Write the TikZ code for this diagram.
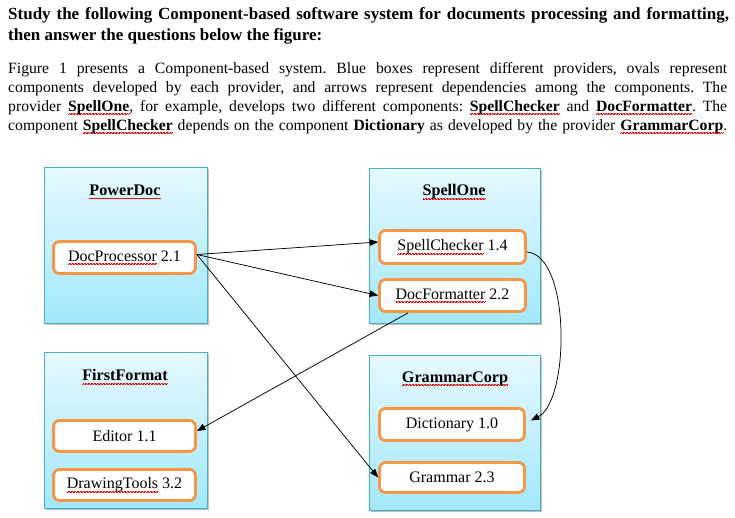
\documentclass[tikz,border=0pt]{standalone}
\usepackage{fontspec}
\setmainfont{Liberation Serif}
\usetikzlibrary{arrows.meta,shadows}
\frenchspacing
\newsavebox{\sqbox}
\newcommand{\sq}[1]{\leavevmode\sbox{\sqbox}{#1}\rlap{\textcolor{red}{\hbox to \wd\sqbox{\xleaders\hbox{\rule[-3.4pt]{0.75pt}{0.55pt}\rule[-2.6pt]{0.75pt}{0.55pt}}\hfill}}}\usebox{\sqbox}}
\definecolor{provtop}{HTML}{E6F9FE}
\definecolor{provbot}{HTML}{A2E8FB}
\definecolor{provborder}{HTML}{4BACC6}
\definecolor{compor}{HTML}{F79646}
\tikzset{
  provider/.style={draw=provborder, line width=0.8pt, top color=provtop, bottom color=provbot,
    drop shadow={shadow xshift=2pt, shadow yshift=-2pt, opacity=0.25, fill=black}, inner sep=0pt},
  comp/.style={draw=compor, line width=2.8pt, fill=white, rounded corners=6pt, inner sep=0pt,
    font=\fontsize{16}{18}\selectfont},
  ptitle/.style={font=\bfseries\fontsize{16.2}{18}\selectfont, inner sep=0pt},
  dep/.style={-{Triangle[length=8.5pt,width=6.5pt]}, line width=0.75pt},
  txt/.style={anchor=base west, inner sep=0pt, font=\fontsize{15.7}{19}\selectfont},
  ttl/.style={anchor=base west, inner sep=0pt, font=\bfseries\fontsize{17}{21}\selectfont},
}
\begin{document}
\begin{tikzpicture}[x=1pt,y=-1pt]
\useasboundingbox (0,0) rectangle (735,517);
% header text
\node[ttl] (t1) at (8,19) {\makebox[721pt][s]{Study the following Component-based software system for documents processing and formatting,}};
\node[ttl] (t2) at (8,40) {then answer the questions below the figure:};
\node[txt] (b1) at (8,73) {\makebox[719pt][s]{Figure 1 presents a Component-based system. Blue boxes represent different providers, ovals represent}};
\node[txt] (b2) at (8,92) {\makebox[719pt][s]{components developed by each provider, and arrows represent dependencies among the components. The}};
\node[txt] (b3) at (8,111) {\makebox[719pt][s]{provider \textbf{\sq{SpellOne}}, for example, develops two different components: \textbf{\sq{SpellChecker}} and \textbf{\sq{DocFormatter}}. The}};
\node[txt] (b4) at (8,130) {\makebox[719pt][s]{component \textbf{\sq{SpellChecker}} depends on the component \textbf{Dictionary} as developed by the provider \textbf{\sq{GrammarCorp}}.}};
% providers
\node[provider, minimum width=163pt, minimum height=156pt] (pdbox) at (125.5,245) {};
\node[provider, minimum width=171pt, minimum height=155pt] (sobox) at (454.5,245.5) {};
\node[provider, minimum width=163pt, minimum height=156pt] (ffbox) at (125.5,430) {};
\node[provider, minimum width=171pt, minimum height=155pt] (gcbox) at (454.5,432.5) {};
\node[ptitle] (pdt) at (125,192) {\sq{PowerDoc}};
\node[ptitle] (sot) at (454,192) {\sq{SpellOne}};
\node[ptitle] (fft) at (125,377) {\sq{FirstFormat}};
\node[ptitle] (gct) at (455,378.5) {\sq{GrammarCorp}};
% components
\node[comp, minimum width=142pt, minimum height=32pt] (dp) at (124.5,257.5) {\sq{DocProcessor} 2.1};
\node[comp, minimum width=146pt, minimum height=33pt] (sc) at (452.5,247) {\sq{SpellChecker} 1.4};
\node[comp, minimum width=146pt, minimum height=32pt] (df) at (452.5,295.5) {\sq{DocFormatter} 2.2};
\node[comp, minimum width=142pt, minimum height=31pt] (ed) at (124.5,436) {Editor 1.1};
\node[comp, minimum width=142pt, minimum height=31pt] (dt) at (124.5,485) {\sq{DrawingTools} 3.2};
\node[comp, minimum width=145pt, minimum height=32pt] (dc) at (452,424.5) {Dictionary 1.0};
\node[comp, minimum width=145pt, minimum height=30pt] (gr) at (452,477.5) {Grammar 2.3};
% dependencies
\coordinate (dpo) at ([yshift=3pt]dp.east);
\coordinate (dcin) at ([shift={(5pt,4pt)}]dc.east);
\draw[dep] (dpo) -- ([yshift=5pt]sc.west);
\draw[dep] (dpo) -- (df.west);
\draw[dep] (dpo) -- (gr.west);
\draw[dep] ([xshift=-44.5pt]df.south) -- ([yshift=5pt]ed.east);
\draw[dep] ([yshift=-5pt]sc.east) .. controls +(44,3) and +(39,-20) .. (dcin);
\end{tikzpicture}
\end{document}
